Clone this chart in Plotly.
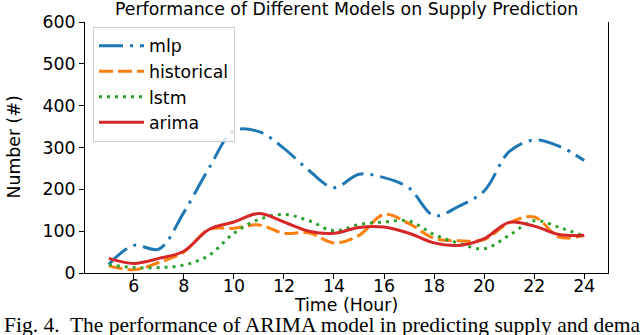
import plotly.graph_objects as go

hours = list(range(5, 25))
mlp = [21, 66, 57, 145, 250, 340, 338, 298, 245, 204, 236, 228, 203, 137, 160, 196, 290, 318, 303, 269]
historical = [17, 8, 25, 50, 104, 107, 115, 95, 96, 72, 90, 140, 118, 83, 77, 80, 120, 134, 86, 90]
lstm = [20, 13, 13, 19, 42, 95, 128, 140, 125, 101, 116, 122, 124, 92, 71, 58, 90, 125, 109, 88]
arima = [35, 23, 35, 52, 104, 122, 142, 122, 100, 95, 109, 110, 95, 72, 66, 82, 121, 112, 92, 90]

series = [
    ("mlp", mlp, "#1f77b4", "24px,7px,3px,7px"),
    ("historical", historical, "#ff7f0e", "14px,5px"),
    ("lstm", lstm, "#2ca02c", "3px,5px"),
    ("arima", arima, "#d62728", "solid"),
]

x_ticks = list(range(6, 25, 2))
y_ticks = list(range(0, 601, 100))

FONT = "DejaVu Sans"
FS = 17.33

fig = go.Figure()
for name, vals, color, dash in series:
    fig.add_trace(go.Scatter(
        x=hours, y=vals, name=name, mode="lines",
        line=dict(color=color, width=3, dash=dash, shape="spline", smoothing=1.0),
    ))

W, H = 640, 335
L, R, T, B = 85, 32, 19, 62
pw = W - L - R
ph = H - T - B

def px_x(p):
    return (p - L) / pw

def px_y(p):
    return (H - B - p) / ph

fig.update_layout(
    width=W, height=H,
    margin=dict(l=L, r=R, t=T, b=B, pad=0),
    paper_bgcolor="white", plot_bgcolor="white",
    font=dict(family=FONT, size=FS, color="black"),
    showlegend=True,
    legend=dict(
        x=px_x(93), y=px_y(24), xanchor="left", yanchor="top",
        bgcolor="rgba(255,255,255,0.8)", bordercolor="#cccccc", borderwidth=1,
        font=dict(family=FONT, size=FS, color="black"), itemwidth=45,
    ),
    xaxis=dict(
        range=[4.05, 24.95], tickvals=x_ticks, ticktext=[str(v) for v in x_ticks],
        showgrid=False, zeroline=False, showline=True, linecolor="black", linewidth=1,
        ticks="outside", ticklen=5, tickwidth=1, tickcolor="black",
        tickfont=dict(family=FONT, size=FS, color="black"), mirror=False,
        ticklabelstandoff=-8,
    ),
    yaxis=dict(
        range=[0, 600], tickvals=y_ticks, ticktext=[str(v) for v in y_ticks],
        showgrid=False, zeroline=False, showline=True, linecolor="black", linewidth=1,
        ticks="outside", ticklen=5, tickwidth=1, tickcolor="black",
        tickfont=dict(family=FONT, size=FS, color="black"), mirror=True,
    ),
    annotations=[
        dict(text="Performance of Different Models on Supply Prediction",
             x=0.5, y=px_y(6), xref="paper", yref="paper", xanchor="center", yanchor="middle",
             showarrow=False, font=dict(family=FONT, size=FS, color="black")),
        dict(text="Time (Hour)", x=px_x(346), y=px_y(305), xref="paper", yref="paper",
             xanchor="center", yanchor="middle", showarrow=False,
             font=dict(family=FONT, size=FS, color="black")),
        dict(text="Number (#)", x=px_x(13), y=0.5, xref="paper", yref="paper",
             xanchor="center", yanchor="middle", textangle=-90, showarrow=False,
             font=dict(family=FONT, size=FS, color="black")),
        dict(text="Fig. 4.  The performance of ARIMA model in predicting supply and demand",
             x=px_x(2), y=px_y(326), xref="paper", yref="paper",
             xanchor="left", yanchor="middle", showarrow=False,
             font=dict(family="Liberation Serif", size=21.5, color="black")),
    ],
)

fig.write_html(
    "out.html",
    config={"displayModeBar": False},
    post_script="document.body.style.margin='0';document.body.style.padding='0';document.body.style.overflow='hidden';",
)
